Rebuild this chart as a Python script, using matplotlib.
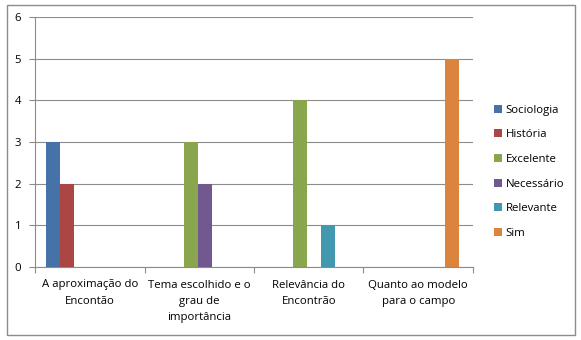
import matplotlib
matplotlib.use("Agg")
import matplotlib.pyplot as plt
from matplotlib.patches import Rectangle
import numpy as np

# data
categories = ["A aproximação do\nEncontão", "Tema escolhido e o\ngrau de\nimportância",
              "Relevância do\nEncontrão", "Quanto ao modelo\npara o campo"]
series = ["Sociologia", "História", "Excelente", "Necessário", "Relevante", "Sim"]
sociologia = [3, 0, 0, 0]
historia = [2, 0, 0, 0]
excelente = [0, 3, 4, 0]
necessario = [0, 2, 0, 0]
relevante = [0, 0, 1, 0]
sim = [0, 0, 0, 5]
colors = ["#4572A7", "#AA4643", "#89A54E", "#71588F", "#4198AF", "#DB843D"]

values = [sociologia, historia, excelente, necessario, relevante, sim]

plt.rcParams['font.family'] = ['Open Sans', 'DejaVu Sans']
fig = plt.figure(figsize=(5.81, 3.40), dpi=100)
ax = fig.add_axes([35/581, 73/340, 438/581, 250/340])

x = np.arange(len(categories))
w = 0.128
for k, (name, vals) in enumerate(zip(series, values)):
    ax.bar(x + (k - 2.5) * w - 0.015, vals, width=w, color=colors[k], label=name, zorder=3)

ax.set_xlim(-0.5, 3.5)
ax.set_ylim(0, 6)
ax.set_yticks(range(7))
ax.yaxis.grid(True, color="#8c8c8c", linewidth=0.8, zorder=0)
ax.set_xticks(x)
ax.set_xticklabels(categories, fontsize=8.2, linespacing=1.65)
ax.tick_params(axis="x", which="major", length=0, pad=9)
ax.set_xticks(np.arange(-0.5, 4, 1), minor=True)
ax.tick_params(axis="x", which="minor", length=4, color="#8c8c8c", width=0.8)
ax.tick_params(axis="y", length=4, color="#8c8c8c", width=0.8, labelsize=8.2, pad=6)
for s in ["top", "right"]:
    ax.spines[s].set_visible(False)
for s in ["left", "bottom"]:
    ax.spines[s].set_color("#8c8c8c")
    ax.spines[s].set_linewidth(0.8)

fig.legend(loc="center left", bbox_to_anchor=(484/581, 0.495), frameon=False,
           fontsize=8.2, handlelength=0.7, handleheight=0.7, handletextpad=0.3,
           labelspacing=1.2)

fig.patches.append(Rectangle((7/581, 5/340), 568/581, 330/340, transform=fig.transFigure,
                             fill=False, edgecolor="#8c8c8c", linewidth=1))

fig.savefig("out.png", dpi=100)
